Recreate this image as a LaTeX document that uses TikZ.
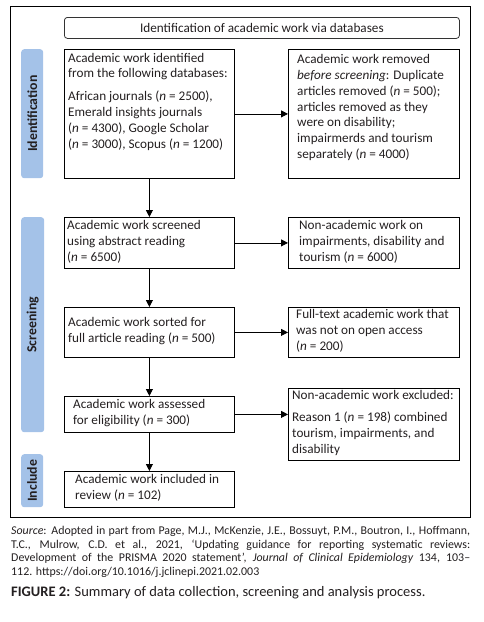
\documentclass[tikz,border=0pt]{standalone}
\usepackage{fontspec}
\setmainfont{Carlito}
\usetikzlibrary{arrows.meta}
\definecolor{barblue}{HTML}{A4C2E8}
\definecolor{txt}{HTML}{231F20}
\begin{document}
\begin{tikzpicture}[x=1pt,y=-1pt,
  box/.style={draw=black,line width=0.8pt,anchor=north west,inner sep=0pt},
  bar/.style={fill=barblue,rounded corners=3pt,anchor=north west,inner sep=0pt},
  bartext/.style={rotate=90,font=\fontsize{13.8}{15}\selectfont\bfseries,text=txt},
  btxt/.style={anchor=base west,align=left,inner sep=0pt,font=\fontsize{13.2}{15.8}\selectfont,text=txt},
  arr/.style={-{Triangle[length=7pt,width=7pt]},line width=0.8pt}]
\useasboundingbox (0,0) rectangle (483,622);
% outer frame
\node[draw=black,line width=0.8pt,anchor=north west,inner sep=0pt,minimum width=460pt,minimum height=511pt] (frame) at (10,6) {};
% title
\node[draw=black!80,line width=0.8pt,rounded corners=3pt,anchor=north west,inner sep=0pt,minimum width=395pt,minimum height=21pt,font=\fontsize{13.2}{15}\selectfont,text=txt] (title) at (64,17) {Identification of academic work via databases};
% side bars
\node[bar,minimum width=22pt,minimum height=129pt] (bid) at (21,49) {};
\node[bartext] (lid) at (bid.center) {Identification};
\node[bar,minimum width=23pt,minimum height=215pt] (bsc) at (21,217) {};
\node[bartext] (lsc) at (bsc.center) {Screening};
\node[bar,minimum width=22pt,minimum height=53pt] (bin) at (21,454) {};
\node[bartext] (lin) at (bin.center) {Include};
% boxes
\node[box,minimum width=170pt,minimum height=129pt] (A) at (64,49) {};
\node[box,minimum width=171pt,minimum height=129pt] (B) at (288,49) {};
\node[box,minimum width=170pt,minimum height=51pt] (C) at (64,217) {};
\node[box,minimum width=171pt,minimum height=51pt] (D) at (288,217) {};
\node[box,minimum width=170pt,minimum height=50pt] (E) at (64,307) {};
\node[box,minimum width=171pt,minimum height=50pt] (F) at (288,307) {};
\node[box,minimum width=170pt,minimum height=36pt] (G) at (64,396) {};
\node[box,minimum width=171pt,minimum height=72pt] (H) at (288,388) {};
\node[box,minimum width=170pt,minimum height=36pt] (I) at (64,471) {};
% texts (anchored at the baseline of the last line)
\node[btxt] (tA) at (68,148) {Academic work identified\\from the following databases:\\[7pt]African journals (\textit{n} = 2500),\\Emerald insights journals\\(\textit{n} = 4300), Google Scholar\\(\textit{n} = 3000), Scopus (\textit{n} = 1200)};
\node[btxt] (tB) at (297,158.5) {Academic work removed\\\textit{before screening}: Duplicate\\articles removed (\textit{n} = 500);\\articles removed as they\\were on disability;\\impairmerds and tourism\\separately (\textit{n} = 4000)};
\node[btxt] (tC) at (67,261) {Academic work screened\\using abstract reading\\(\textit{n} = 6500)};
\node[btxt] (tD) at (299,261) {Non-academic work on\\impairments, disability and\\tourism (\textit{n} = 6000)};
\node[btxt] (tE) at (68,342) {Academic work sorted for\\full article reading (\textit{n} = 500)};
\node[btxt] (tF) at (296,350) {Full-text academic work that\\was not on open access\\(\textit{n} = 200)};
\node[btxt] (tG) at (73,424.5) {Academic work assessed\\for eligibility (\textit{n} = 300)};
\node[btxt] (tH) at (292,453) {Non-academic work excluded:\\[6pt]Reason 1 (\textit{n} = 198) combined\\tourism, impairments, and\\disability};
\node[btxt] (tI) at (75,499) {Academic work included in\\review (\textit{n} = 102)};
% arrows
\draw[arr] (A.south) -- (C.north);
\draw[arr] (C.south) -- (E.north);
\draw[arr] (E.south) -- (G.north);
\draw[arr] (G.south) -- (I.north);
\draw[arr] (A.east) -- (B.west);
\draw[arr] (C.east) -- (D.west);
\draw[arr] (E.east) -- (F.west);
\draw[arr] (G.east) -- (G.east -| H.west);
% source
\node[anchor=base west,inner sep=0pt,text width=459pt,align=justify,font=\fontsize{11.9}{13.5}\selectfont,text=txt] (src) at (11,534.5) {\textit{Source}: Adopted in part from Page, M.J., McKenzie, J.E., Bossuyt, P.M., Boutron, I., Hoffmann,\linebreak T.C., Mulrow, C.D. et al., 2021, ‘Updating guidance for reporting systematic reviews:\linebreak Development of the PRISMA 2020 statement’, \textit{Journal of Clinical Epidemiology} 134, 103–\linebreak 112. https://doi.org/10.1016/j.jclinepi.2021.02.003};
\node[anchor=base west,inner sep=0pt,font=\fontsize{14.5}{16}\selectfont,text=txt] (cap) at (11,596) {\textbf{FIGURE 2:} Summary of data collection, screening and analysis process.};
\end{tikzpicture}
\end{document}
